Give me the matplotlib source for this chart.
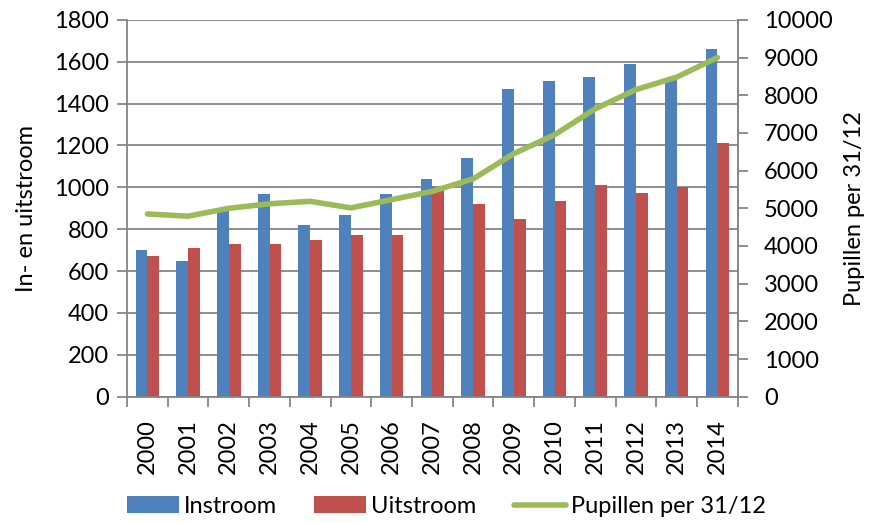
import numpy as np
import matplotlib.pyplot as plt
from matplotlib.ticker import MultipleLocator

plt.rcParams['font.family'] = ['Lato', 'DejaVu Sans']

years = ["2000", "2001", "2002", "2003", "2004", "2005", "2006", "2007",
         "2008", "2009", "2010", "2011", "2012", "2013", "2014"]
instroom = [700, 650, 900, 970, 820, 870, 970, 1040, 1140, 1468, 1510, 1525, 1590, 1515, 1663]
uitstroom = [670, 710, 730, 730, 750, 770, 770, 1000, 920, 850, 935, 1012, 972, 1004, 1210]
pupillen = [4850, 4790, 5000, 5120, 5185, 5010, 5230, 5450, 5780, 6450, 6950, 7640, 8150, 8480, 9000]

blue = "#4f81bd"
red = "#c0504d"
green = "#9bbb59"
grey = "#868686"
fs = 17

fig = plt.figure(figsize=(8.7, 5.23), dpi=100)
ax = fig.add_axes([0.146, 0.2415, 0.702, 0.7205])
x = np.arange(len(years))
w = 0.29
ax.bar(x - w / 2, instroom, w, color=blue, label="Instroom", zorder=2)
ax.bar(x + w / 2, uitstroom, w, color=red, label="Uitstroom", zorder=2)

ax.set_xlim(-0.5, len(years) - 0.5)
ax.set_ylim(0, 1800)
ax.yaxis.set_major_locator(MultipleLocator(200))
ax.yaxis.grid(True, color=grey, linewidth=1.3, zorder=0)
ax.set_axisbelow(True)
ax.set_xticks(x)
ax.set_xticklabels(years, rotation=90, fontsize=fs)
ax.set_xticks(np.arange(-0.5, len(years)), minor=True)
ax.tick_params(axis='x', which='major', length=0, pad=16)
ax.tick_params(axis='x', which='minor', length=7, color=grey, width=1.3)
ax.tick_params(axis='y', labelsize=fs, length=7, color=grey, width=1.3, pad=6)
ax.set_ylabel("In- en uitstroom", fontsize=fs, labelpad=12)
ax.spines["top"].set_visible(False)
for s in ["left", "right", "bottom"]:
    ax.spines[s].set_color(grey)
    ax.spines[s].set_linewidth(1.3)

ax2 = ax.twinx()
ax2.plot(x, pupillen, color=green, linewidth=4, label="Pupillen per 31/12",
         solid_capstyle='round', zorder=3)
ax2.set_ylim(0, 10000)
ax2.yaxis.set_major_locator(MultipleLocator(1000))
ax2.tick_params(axis='y', labelsize=fs, length=7, color=grey, width=1.3, pad=12)
ax2.set_ylabel("Pupillen per 31/12", fontsize=fs, labelpad=8)
for s in ["top", "left", "bottom"]:
    ax2.spines[s].set_visible(False)
ax2.spines["right"].set_color(grey)
ax2.spines["right"].set_linewidth(1.3)

h1, l1 = ax.get_legend_handles_labels()
h2, l2 = ax2.get_legend_handles_labels()
fig.legend(h1 + h2, l1 + l2, loc="center", bbox_to_anchor=(0.513, 0.032),
           ncol=3, frameon=False, fontsize=fs, handlelength=2.2,
           handleheight=0.7, columnspacing=1.6, handletextpad=0.2,
           borderpad=0, borderaxespad=0)

fig.savefig("out.png", dpi=100)
